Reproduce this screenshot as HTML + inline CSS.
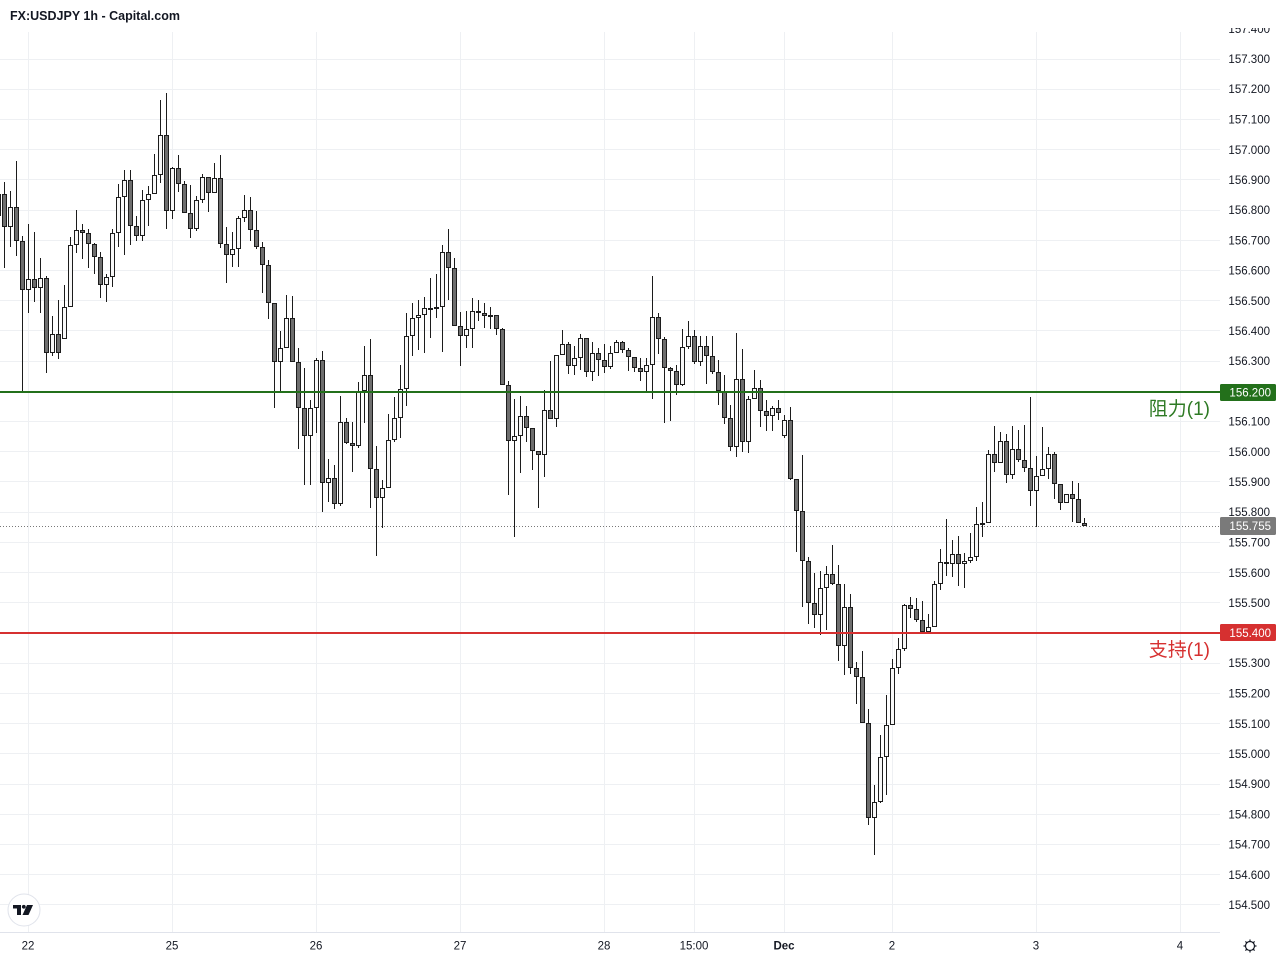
<!DOCTYPE html>
<html>
<head>
<meta charset="utf-8">
<style>
html,body{margin:0;padding:0;background:#fff;}
body{width:1280px;height:960px;overflow:hidden;}
svg{display:block;}
text{font-family:"Liberation Sans","Noto Sans CJK SC",sans-serif;}
</style>
</head>
<body>
<svg width="1280" height="960" viewBox="0 0 1280 960" xmlns="http://www.w3.org/2000/svg">
<defs>
<clipPath id="pane"><rect x="0" y="32" width="1220" height="900"/></clipPath>
<clipPath id="axis"><rect x="1220" y="28" width="60" height="904"/></clipPath>
</defs>
<rect x="0" y="0" width="1280" height="960" fill="#ffffff"/>
<text x="10" y="20" font-size="12.5" font-weight="bold" fill="#131722">FX:USDJPY 1h - Capital.com</text>

<g clip-path="url(#pane)">
<g stroke="#eef0f3" stroke-width="1" fill="none">
<path d="M0 59.5H1220M0 89.5H1220M0 119.5H1220M0 149.5H1220M0 179.5H1220M0 210.5H1220M0 240.5H1220M0 270.5H1220M0 300.5H1220M0 330.5H1220M0 361.5H1220M0 421.5H1220M0 451.5H1220M0 481.5H1220M0 512.5H1220M0 542.5H1220M0 572.5H1220M0 602.5H1220M0 663.5H1220M0 693.5H1220M0 723.5H1220M0 753.5H1220M0 784.5H1220M0 814.5H1220M0 844.5H1220M0 874.5H1220M0 904.5H1220"/>
<path d="M28.5 32V932M172.5 32V932M316.5 32V932M460.5 32V932M604.5 32V932M694.5 32V932M784.5 32V932M892.5 32V932M1036.5 32V932M1180.5 32V932"/>
</g>
<path d="M0 526.5H1220" stroke="#787878" stroke-width="1" stroke-dasharray="1 2" fill="none"/>

<path fill="none" stroke="#1c1c1c" stroke-width="1" d="M-1.5 183V222M4.5 182V268M10.5 191V247M16.5 161V256M22.5 236V392M28.5 224V313M34.5 232V302M40.5 258V313M46.5 276V373M52.5 316V356M58.5 300V359M64.5 285V339M70.5 237V307M76.5 210V253M82.5 224V259M88.5 229V268M94.5 243V274M100.5 252V298M106.5 274V302M112.5 229V287M118.5 184V247M124.5 170V255M130.5 170V245M136.5 216V241M142.5 190V241M148.5 186V226M154.5 154V194M160.5 100V183M166.5 93V229M172.5 167V219M178.5 155V192M184.5 181V213M190.5 185V238M196.5 196V231M202.5 174V203M208.5 177V212M214.5 163V193M220.5 155V248M226.5 227V283M232.5 232V267M238.5 216V267M244.5 195V222M250.5 197V241M256.5 211V249M262.5 242V293M268.5 260V319M274.5 303V408M280.5 331V391M286.5 295V348M292.5 296V362M298.5 348V449M304.5 368V485M310.5 400V485M316.5 358V433M322.5 351V512M328.5 459V502M334.5 465V509M340.5 396V506M346.5 418V444M352.5 422V472M358.5 382V448M364.5 346V423M370.5 339V508M376.5 446V556M382.5 480V528M388.5 414V488M394.5 397V442M400.5 365V438M406.5 313V406M412.5 303V356M418.5 300V350M424.5 297V353M430.5 278V338M436.5 274V318M442.5 245V352M448.5 229V300M454.5 258V326M460.5 312V366M466.5 311V348M472.5 298V348M478.5 300V321M484.5 303V328M490.5 307V329M496.5 315V335M502.5 328V385M508.5 381V495M514.5 399V537M520.5 396V473M526.5 406V442M532.5 428V470M538.5 451V508M544.5 390V477M550.5 361V419M556.5 355V427M562.5 330V355M568.5 342V374M574.5 346V375M580.5 334V370M586.5 338V377M592.5 342V381M598.5 348V376M604.5 344V373M610.5 346V369M616.5 340V353M622.5 341V353M628.5 348V371M634.5 357V372M640.5 358V381M646.5 358V392M652.5 276V399M658.5 313V354M664.5 337V423M670.5 367V421M676.5 365V395M682.5 329V386M688.5 321V349M694.5 330V364M700.5 336V366M706.5 336V384M712.5 336V374M718.5 360V405M724.5 375V424M730.5 405V451M736.5 333V457M742.5 349V452M748.5 396V453M754.5 370V399M760.5 380V427M766.5 400V431M772.5 406V431M778.5 400V420M784.5 415V438M790.5 407V480M796.5 479V552M802.5 455V607M808.5 557V624M814.5 573V628M820.5 571V635M826.5 566V630M832.5 545V585M838.5 565V661M844.5 584V675M850.5 594V674M856.5 662V704M862.5 651V723M868.5 709V825M874.5 785V855M880.5 735V803M886.5 695V795M892.5 659V725M898.5 638V674M904.5 604V651M910.5 597V618M916.5 598V622M922.5 601V633M928.5 614V632M934.5 581V627M940.5 549V590M946.5 519V576M952.5 540V577M958.5 536V586M964.5 553V588M970.5 533V563M976.5 507V561M982.5 502V537M988.5 450V523M994.5 426V472M1000.5 432V463M1006.5 434V483M1012.5 426V479M1018.5 430V462M1024.5 425V472M1030.5 397V506M1036.5 456V527M1042.5 427V476M1048.5 447V479M1054.5 452V499M1060.5 484V510M1066.5 494V503M1072.5 481V522M1078.5 483V523M1084.5 518V526"/>

<g fill="#6e6e6e" stroke="#1c1c1c" stroke-width="1">
<rect x="-3.5" y="194.5" width="4" height="21"/>
<rect x="2.5" y="194.5" width="4" height="32"/>
<rect x="14.5" y="207.5" width="4" height="33"/>
<rect x="20.5" y="241.5" width="4" height="48"/>
<rect x="32.5" y="279.5" width="4" height="8"/>
<rect x="44.5" y="278.5" width="4" height="74"/>
<rect x="56.5" y="334.5" width="4" height="18"/>
<rect x="80.5" y="230.5" width="4" height="2"/>
<rect x="86.5" y="233.5" width="4" height="10"/>
<rect x="92.5" y="244.5" width="4" height="12"/>
<rect x="98.5" y="257.5" width="4" height="27"/>
<rect x="128.5" y="180.5" width="4" height="45"/>
<rect x="134.5" y="226.5" width="4" height="9"/>
<rect x="164.5" y="135.5" width="4" height="75"/>
<rect x="176.5" y="168.5" width="4" height="15"/>
<rect x="182.5" y="184.5" width="4" height="28"/>
<rect x="188.5" y="213.5" width="4" height="15"/>
<rect x="206.5" y="177.5" width="4" height="15"/>
<rect x="218.5" y="178.5" width="4" height="65"/>
<rect x="224.5" y="244.5" width="4" height="10"/>
<rect x="248.5" y="210.5" width="4" height="19"/>
<rect x="254.5" y="230.5" width="4" height="16"/>
<rect x="260.5" y="247.5" width="4" height="17"/>
<rect x="266.5" y="265.5" width="4" height="37"/>
<rect x="272.5" y="303.5" width="4" height="58"/>
<rect x="290.5" y="318.5" width="4" height="43"/>
<rect x="296.5" y="362.5" width="4" height="45"/>
<rect x="302.5" y="408.5" width="4" height="27"/>
<rect x="320.5" y="360.5" width="4" height="122"/>
<rect x="332.5" y="478.5" width="4" height="25"/>
<rect x="344.5" y="422.5" width="4" height="20"/>
<rect x="350.5" y="443.5" width="4" height="2"/>
<rect x="368.5" y="375.5" width="4" height="93"/>
<rect x="374.5" y="469.5" width="4" height="28"/>
<rect x="428.5" y="308.5" width="4" height="1"/>
<rect x="446.5" y="252.5" width="4" height="15"/>
<rect x="452.5" y="268.5" width="4" height="57"/>
<rect x="458.5" y="326.5" width="4" height="9"/>
<rect x="476.5" y="311.5" width="4" height="1"/>
<rect x="482.5" y="313.5" width="4" height="2"/>
<rect x="488.5" y="315.5" width="4" height="1"/>
<rect x="494.5" y="315.5" width="4" height="13"/>
<rect x="500.5" y="329.5" width="4" height="55"/>
<rect x="506.5" y="385.5" width="4" height="55"/>
<rect x="524.5" y="416.5" width="4" height="11"/>
<rect x="530.5" y="428.5" width="4" height="22"/>
<rect x="536.5" y="451.5" width="4" height="3"/>
<rect x="548.5" y="410.5" width="4" height="8"/>
<rect x="566.5" y="344.5" width="4" height="21"/>
<rect x="584.5" y="338.5" width="4" height="33"/>
<rect x="596.5" y="353.5" width="4" height="6"/>
<rect x="602.5" y="360.5" width="4" height="6"/>
<rect x="620.5" y="342.5" width="4" height="7"/>
<rect x="626.5" y="350.5" width="4" height="6"/>
<rect x="632.5" y="357.5" width="4" height="10"/>
<rect x="638.5" y="368.5" width="4" height="3"/>
<rect x="656.5" y="317.5" width="4" height="21"/>
<rect x="662.5" y="339.5" width="4" height="28"/>
<rect x="668.5" y="368.5" width="4" height="2"/>
<rect x="674.5" y="371.5" width="4" height="13"/>
<rect x="692.5" y="336.5" width="4" height="25"/>
<rect x="704.5" y="346.5" width="4" height="9"/>
<rect x="710.5" y="356.5" width="4" height="15"/>
<rect x="716.5" y="372.5" width="4" height="18"/>
<rect x="722.5" y="391.5" width="4" height="26"/>
<rect x="728.5" y="418.5" width="4" height="28"/>
<rect x="740.5" y="379.5" width="4" height="62"/>
<rect x="758.5" y="388.5" width="4" height="22"/>
<rect x="764.5" y="411.5" width="4" height="4"/>
<rect x="776.5" y="408.5" width="4" height="4"/>
<rect x="788.5" y="420.5" width="4" height="58"/>
<rect x="794.5" y="479.5" width="4" height="31"/>
<rect x="800.5" y="511.5" width="4" height="49"/>
<rect x="806.5" y="561.5" width="4" height="41"/>
<rect x="812.5" y="603.5" width="4" height="11"/>
<rect x="830.5" y="574.5" width="4" height="9"/>
<rect x="836.5" y="584.5" width="4" height="61"/>
<rect x="848.5" y="607.5" width="4" height="60"/>
<rect x="854.5" y="668.5" width="4" height="8"/>
<rect x="860.5" y="677.5" width="4" height="45"/>
<rect x="866.5" y="723.5" width="4" height="94"/>
<rect x="908.5" y="605.5" width="4" height="3"/>
<rect x="914.5" y="609.5" width="4" height="10"/>
<rect x="920.5" y="620.5" width="4" height="11"/>
<rect x="944.5" y="562.5" width="4" height="1"/>
<rect x="956.5" y="554.5" width="4" height="9"/>
<rect x="980.5" y="523.5" width="4" height="1"/>
<rect x="992.5" y="454.5" width="4" height="8"/>
<rect x="1004.5" y="441.5" width="4" height="33"/>
<rect x="1016.5" y="449.5" width="4" height="10"/>
<rect x="1022.5" y="460.5" width="4" height="7"/>
<rect x="1028.5" y="468.5" width="4" height="22"/>
<rect x="1052.5" y="454.5" width="4" height="29"/>
<rect x="1058.5" y="484.5" width="4" height="18"/>
<rect x="1070.5" y="494.5" width="4" height="4"/>
<rect x="1076.5" y="499.5" width="4" height="23"/>
<rect x="1082.5" y="523.5" width="4" height="2"/>
</g>

<g fill="#f8f8f8" stroke="#1c1c1c" stroke-width="1">
<rect x="8.5" y="207.5" width="4" height="19"/>
<rect x="26.5" y="279.5" width="4" height="10"/>
<rect x="38.5" y="278.5" width="4" height="9"/>
<rect x="50.5" y="334.5" width="4" height="18"/>
<rect x="62.5" y="307.5" width="4" height="31"/>
<rect x="68.5" y="245.5" width="4" height="61"/>
<rect x="74.5" y="230.5" width="4" height="14"/>
<rect x="104.5" y="277.5" width="4" height="7"/>
<rect x="110.5" y="233.5" width="4" height="43"/>
<rect x="116.5" y="197.5" width="4" height="35"/>
<rect x="122.5" y="180.5" width="4" height="16"/>
<rect x="140.5" y="200.5" width="4" height="35"/>
<rect x="146.5" y="194.5" width="4" height="5"/>
<rect x="152.5" y="175.5" width="4" height="18"/>
<rect x="158.5" y="135.5" width="4" height="39"/>
<rect x="170.5" y="168.5" width="4" height="42"/>
<rect x="194.5" y="200.5" width="4" height="28"/>
<rect x="200.5" y="177.5" width="4" height="22"/>
<rect x="212.5" y="178.5" width="4" height="14"/>
<rect x="230.5" y="249.5" width="4" height="5"/>
<rect x="236.5" y="218.5" width="4" height="30"/>
<rect x="242.5" y="210.5" width="4" height="7"/>
<rect x="278.5" y="348.5" width="4" height="13"/>
<rect x="284.5" y="318.5" width="4" height="29"/>
<rect x="308.5" y="408.5" width="4" height="27"/>
<rect x="314.5" y="360.5" width="4" height="47"/>
<rect x="326.5" y="478.5" width="4" height="4"/>
<rect x="338.5" y="422.5" width="4" height="81"/>
<rect x="356.5" y="391.5" width="4" height="54"/>
<rect x="362.5" y="375.5" width="4" height="15"/>
<rect x="380.5" y="488.5" width="4" height="9"/>
<rect x="386.5" y="440.5" width="4" height="47"/>
<rect x="392.5" y="418.5" width="4" height="21"/>
<rect x="398.5" y="389.5" width="4" height="28"/>
<rect x="404.5" y="336.5" width="4" height="52"/>
<rect x="410.5" y="318.5" width="4" height="17"/>
<rect x="416.5" y="315.5" width="4" height="2"/>
<rect x="422.5" y="308.5" width="4" height="6"/>
<rect x="434.5" y="307.5" width="4" height="1"/>
<rect x="440.5" y="252.5" width="4" height="54"/>
<rect x="464.5" y="329.5" width="4" height="6"/>
<rect x="470.5" y="311.5" width="4" height="17"/>
<rect x="512.5" y="436.5" width="4" height="4"/>
<rect x="518.5" y="416.5" width="4" height="19"/>
<rect x="542.5" y="410.5" width="4" height="44"/>
<rect x="554.5" y="355.5" width="4" height="63"/>
<rect x="560.5" y="344.5" width="4" height="10"/>
<rect x="572.5" y="358.5" width="4" height="7"/>
<rect x="578.5" y="338.5" width="4" height="19"/>
<rect x="590.5" y="353.5" width="4" height="18"/>
<rect x="608.5" y="353.5" width="4" height="13"/>
<rect x="614.5" y="342.5" width="4" height="10"/>
<rect x="644.5" y="365.5" width="4" height="6"/>
<rect x="650.5" y="317.5" width="4" height="47"/>
<rect x="680.5" y="347.5" width="4" height="37"/>
<rect x="686.5" y="336.5" width="4" height="10"/>
<rect x="698.5" y="346.5" width="4" height="15"/>
<rect x="734.5" y="379.5" width="4" height="67"/>
<rect x="746.5" y="399.5" width="4" height="42"/>
<rect x="752.5" y="388.5" width="4" height="10"/>
<rect x="770.5" y="408.5" width="4" height="7"/>
<rect x="782.5" y="420.5" width="4" height="15"/>
<rect x="818.5" y="588.5" width="4" height="26"/>
<rect x="824.5" y="574.5" width="4" height="13"/>
<rect x="842.5" y="607.5" width="4" height="38"/>
<rect x="872.5" y="802.5" width="4" height="15"/>
<rect x="878.5" y="757.5" width="4" height="44"/>
<rect x="884.5" y="725.5" width="4" height="31"/>
<rect x="890.5" y="668.5" width="4" height="56"/>
<rect x="896.5" y="649.5" width="4" height="18"/>
<rect x="902.5" y="605.5" width="4" height="43"/>
<rect x="926.5" y="627.5" width="4" height="4"/>
<rect x="932.5" y="584.5" width="4" height="42"/>
<rect x="938.5" y="562.5" width="4" height="21"/>
<rect x="950.5" y="554.5" width="4" height="9"/>
<rect x="962.5" y="561.5" width="4" height="2"/>
<rect x="968.5" y="557.5" width="4" height="3"/>
<rect x="974.5" y="524.5" width="4" height="32"/>
<rect x="986.5" y="454.5" width="4" height="68"/>
<rect x="998.5" y="441.5" width="4" height="21"/>
<rect x="1010.5" y="449.5" width="4" height="25"/>
<rect x="1034.5" y="476.5" width="4" height="14"/>
<rect x="1040.5" y="469.5" width="4" height="6"/>
<rect x="1046.5" y="454.5" width="4" height="14"/>
<rect x="1064.5" y="494.5" width="4" height="8"/>
</g>

<rect x="0" y="391" width="1220" height="2" fill="#23701b"/>
<rect x="0" y="632" width="1220" height="2" fill="#d63030"/>
<text x="1210" y="415" font-size="19" text-anchor="end" fill="#2e7a24">阻力(1)</text>
<text x="1210" y="656" font-size="19" text-anchor="end" fill="#d63030">支持(1)</text>
</g>

<!-- axes separator -->
<path d="M0 932.5H1220" stroke="#e0e3eb" stroke-width="1"/>

<g clip-path="url(#axis)" font-size="11.5" fill="#131722" text-anchor="end">
<text x="1270" y="33">157.400</text>
<text x="1270" y="63">157.300</text>
<text x="1270" y="93">157.200</text>
<text x="1270" y="123.5">157.100</text>
<text x="1270" y="154">157.000</text>
<text x="1270" y="184">156.900</text>
<text x="1270" y="214">156.800</text>
<text x="1270" y="244.5">156.700</text>
<text x="1270" y="274.5">156.600</text>
<text x="1270" y="305">156.500</text>
<text x="1270" y="335">156.400</text>
<text x="1270" y="365">156.300</text>
<text x="1270" y="425.5">156.100</text>
<text x="1270" y="456">156.000</text>
<text x="1270" y="486">155.900</text>
<text x="1270" y="516">155.800</text>
<text x="1270" y="546.5">155.700</text>
<text x="1270" y="577">155.600</text>
<text x="1270" y="607">155.500</text>
<text x="1270" y="667">155.300</text>
<text x="1270" y="697.5">155.200</text>
<text x="1270" y="728">155.100</text>
<text x="1270" y="758">155.000</text>
<text x="1270" y="788">154.900</text>
<text x="1270" y="818.5">154.800</text>
<text x="1270" y="848.5">154.700</text>
<text x="1270" y="879">154.600</text>
<text x="1270" y="909">154.500</text>
</g>

<rect x="1220" y="384" width="56" height="17" rx="1.5" fill="#23701b"/>
<text x="1271" y="396.5" font-size="11.5" text-anchor="end" fill="#ffffff">156.200</text>
<rect x="1220" y="517" width="56" height="18" rx="1.5" fill="#7a7a7a"/>
<text x="1271" y="530" font-size="11.5" text-anchor="end" fill="#ffffff">155.755</text>
<rect x="1220" y="624" width="56" height="17" rx="1.5" fill="#d63030"/>
<text x="1271" y="637" font-size="11.5" text-anchor="end" fill="#ffffff">155.400</text>

<g font-size="11.5" fill="#131722" text-anchor="middle">
<text x="28" y="949.5">22</text>
<text x="172" y="949.5">25</text>
<text x="316" y="949.5">26</text>
<text x="460" y="949.5">27</text>
<text x="604" y="949.5">28</text>
<text x="694" y="949.5">15:00</text>
<text x="784" y="949.5" font-weight="bold">Dec</text>
<text x="892" y="949.5">2</text>
<text x="1036" y="949.5">3</text>
<text x="1180" y="949.5">4</text>
</g>

<!-- TV logo -->
<circle cx="24" cy="910" r="16" fill="#ffffff" stroke="#e0e3eb" stroke-width="1"/>
<g fill="#131722">
<rect x="13" y="905" width="8" height="3.5"/>
<rect x="17" y="905" width="4" height="10"/>
<circle cx="23.8" cy="906.8" r="1.9"/>
<path d="M27 905H33L28.5 915H22.5Z"/>
</g>

<!-- settings icon -->
<g stroke="#131722" stroke-width="1.2" fill="none">
<circle cx="1250" cy="946" r="4.5"/>
<path d="M1250 939.5V941.5M1250 950.5V952.5M1243.5 946H1245.5M1254.5 946H1256.5M1245.4 941.4L1246.8 942.8M1253.2 949.2L1254.6 950.6M1245.4 950.6L1246.8 949.2M1253.2 942.8L1254.6 941.4"/>
</g>
</svg>
</body>
</html>
